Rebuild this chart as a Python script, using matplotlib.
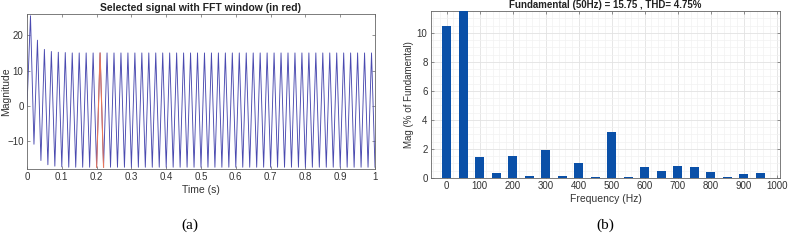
import numpy as np
import matplotlib.pyplot as plt
from matplotlib.ticker import MultipleLocator

plt.rcParams['font.family'] = ['Liberation Sans', 'DejaVu Sans']

# --- (a) time signal: extreme values read per half cycle (every 0.01 s) ---
half_period = 0.01
start_value = 0.0
peaks = [25.5, 18.6, 16.0, 15.4, 15.2, 15.1, 15.0, 15.0, 15.0, 15.0,
         15.0, 15.0, 15.0, 15.0, 15.0, 15.0, 15.0, 15.0, 15.0, 15.0,
         15.0, 15.0, 15.0, 15.0, 15.0, 15.0, 15.0, 15.0, 15.0, 15.0,
         15.0, 15.0, 15.0, 15.0, 15.0, 15.0, 15.0, 15.0, 15.0, 15.0,
         15.0, 15.0, 15.0, 15.0, 15.0, 15.0, 15.0, 15.0, 15.0, 15.0]
troughs = [-10.8, -15.4, -16.6, -17.0, -17.2, -17.3, -17.3, -17.3, -17.3, -17.3,
           -17.3, -17.3, -17.3, -17.3, -17.3, -17.3, -17.3, -17.3, -17.3, -17.3,
           -17.3, -17.3, -17.3, -17.3, -17.3, -17.3, -17.3, -17.3, -17.3, -17.3,
           -17.3, -17.3, -17.3, -17.3, -17.3, -17.3, -17.3, -17.3, -17.3, -17.3,
           -17.3, -17.3, -17.3, -17.3, -17.3, -17.3, -17.3, -17.3, -17.3, -17.3]
window_start, window_end = 0.20, 0.22

# --- (b) FFT spectrum ---
freqs = [0, 50, 100, 150, 200, 250, 300, 350, 400, 450,
         500, 550, 600, 650, 700, 750, 800, 850, 900, 950]
mags = [10.5, 100.0, 1.42, 0.36, 1.52, 0.15, 1.95, 0.12, 1.05, 0.07,
        3.2, 0.1, 0.73, 0.45, 0.8, 0.77, 0.42, 0.05, 0.3, 0.36]

signal = [start_value]
for p, t in zip(peaks, troughs):
    signal += [p, t]
signal = np.array(signal)
time = np.arange(len(signal)) * half_period

fig = plt.figure(figsize=(7.89, 2.45), dpi=100)
W, H = 789, 245

def make_axes(left, top, right, bottom):
    return fig.add_axes([left / W, 1 - bottom / H, (right - left) / W, (bottom - top) / H])

def style(ax):
    for s in ax.spines.values():
        s.set_color('#666666')
        s.set_linewidth(0.6)
    ax.tick_params(direction='in', length=2.5, width=0.5, colors='#666666',
                   labelcolor='#333333', labelsize=7, top=True, right=True, pad=2.5)
    ax.tick_params(which='minor', length=0, top=True, right=True)

# left panel
ax1 = make_axes(27, 14, 375, 169)
ax1.plot(time, signal, color='#4a4ab0', lw=0.65)
win = (time >= window_start - 1e-9) & (time <= window_end + 1e-9)
ax1.plot(time[win], signal[win], color='#e8765a', lw=0.8)
ax1.set_xlim(0, 1)
ax1.set_ylim(-17.8, 26)
ax1.set_xticks(np.arange(0, 1.01, 0.1))
ax1.set_xticklabels(['0', '0.1', '0.2', '0.3', '0.4', '0.5', '0.6', '0.7', '0.8', '0.9', '1'])
ax1.set_yticks([-10, 0, 10, 20])
style(ax1)
ax1.set_title('Selected signal with FFT window (in red)', fontsize=7.5,
              fontweight='bold', pad=2, color='#222222')
ax1.set_xlabel('Time (s)', fontsize=7.5, labelpad=2, color='#333333')
ax1.set_ylabel('Magnitude', fontsize=7.5, color='#333333')
ax1.yaxis.set_label_coords((11.5 - 27) / 348, 0.5)

# right panel
ax2 = make_axes(431, 11, 780, 178)
ax2.bar(freqs, mags, width=27, color='#0a50a8', zorder=3)
ax2.set_xlim(-47.5, 1010)
ax2.set_ylim(0, 11.5)
ax2.set_xticks(np.arange(0, 1001, 100))
ax2.set_yticks(np.arange(0, 11, 2))
ax2.xaxis.set_minor_locator(MultipleLocator(20))
ax2.yaxis.set_minor_locator(MultipleLocator(0.5))
ax2.grid(which='major', color='#e2e2e2', lw=0.6, zorder=0)
ax2.grid(which='minor', color='#f1f1f1', lw=0.5, zorder=0)
ax2.set_axisbelow(True)
style(ax2)
ax2.set_title('Fundamental (50Hz) = 15.75 , THD= 4.75%', fontsize=7,
              fontweight='bold', pad=2, color='#222222')
ax2.set_xlabel('Frequency (Hz)', fontsize=7.5, labelpad=2, color='#333333')
ax2.set_ylabel('Mag (% of Fundamental)', fontsize=7, color='#333333')
ax2.yaxis.set_label_coords((414 - 431) / 349, 0.5)

fig.text(190 / W, 1 - 225 / H, '(a)', fontsize=11, family='Liberation Serif',
         ha='center', va='center')
fig.text(605 / W, 1 - 225 / H, '(b)', fontsize=11, family='Liberation Serif',
         ha='center', va='center')

fig.savefig('out.png', dpi=100)
